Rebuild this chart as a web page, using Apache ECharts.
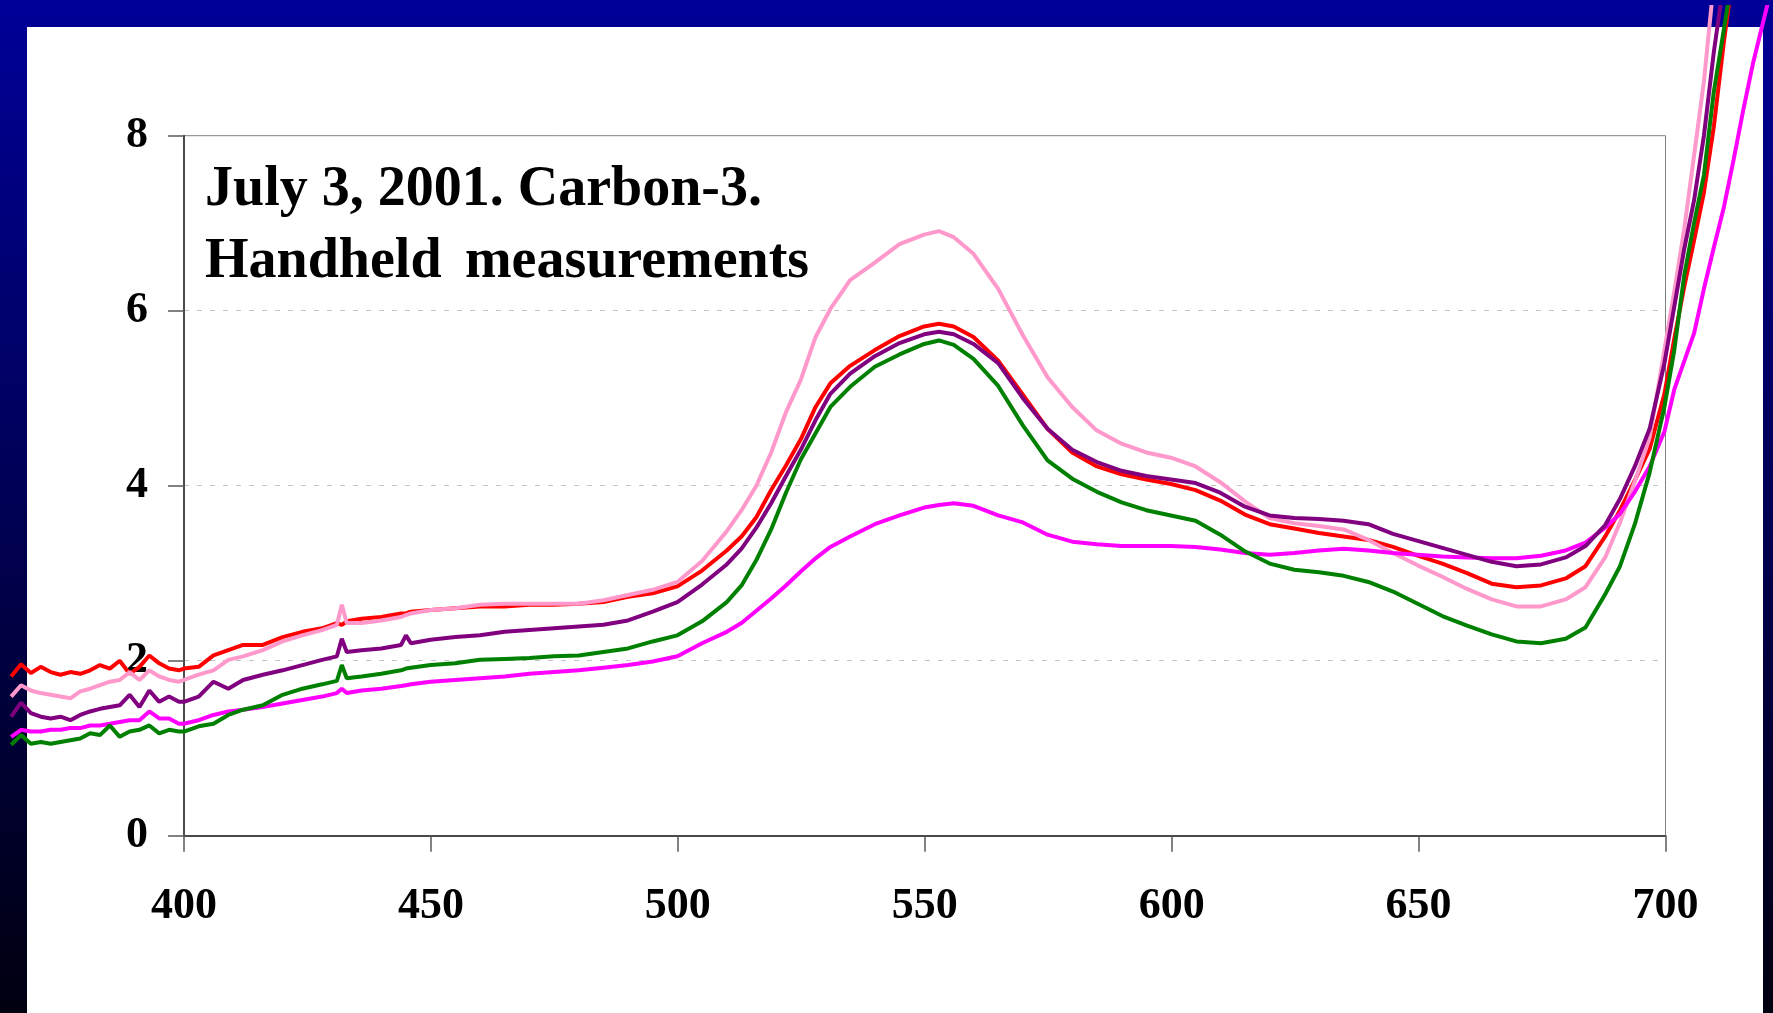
<!DOCTYPE html>
<html>
<head>
<meta charset="utf-8">
<title>July 3, 2001. Carbon-3. Handheld measurements</title>
<script src="https://cdn.jsdelivr.net/npm/echarts@6/dist/echarts.min.js"></script>
<style>
  html, body {
    margin: 0; padding: 0;
    width: 1773px; height: 1013px; overflow: hidden;
    background: linear-gradient(to bottom, #000098 0%, #000010 100%);
  }
  #panel {
    position: absolute; left: 27px; top: 27px;
    width: 1736px; height: 986px; background: #ffffff;
  }
  #chart {
    position: absolute; left: 0; top: 0;
    width: 1773px; height: 1013px;
  }
</style>
</head>
<body>
<div id="panel"></div>
<div id="chart"></div>
<script>
// Wavelength grid (nm) shared by all five spectra
const wavelengths = [
  365, 367, 369, 371, 373, 375, 377, 379, 381, 383, 385, 387, 389, 391, 393, 395, 397, 399,
  400, 403, 406, 409, 412, 416, 420, 424, 428, 431, 432, 433, 436, 440, 444, 445, 446, 450,
  455, 460, 465, 470, 475, 480, 485, 490, 495, 500,
  505, 510, 513, 516, 519, 522, 525, 528, 531, 535, 540, 545, 550, 553, 556, 560, 565, 570,
  575, 580, 585, 590, 595, 600,
  605, 610, 615, 620, 625, 630, 635, 640, 645, 650, 655, 660, 665, 670, 675, 680, 684, 688,
  691, 694, 697, 700,
  702, 704, 706, 708, 710, 712, 714, 716, 718, 720, 722
];

const redValues = [
  1.82, 1.96, 1.86, 1.93, 1.87, 1.84, 1.87, 1.85, 1.89, 1.95, 1.91, 2.00, 1.85, 1.93, 2.06, 1.97, 1.91, 1.89,
  1.91, 1.93, 2.06, 2.12, 2.18, 2.18, 2.27, 2.33, 2.37, 2.43, 2.41, 2.45, 2.48, 2.50, 2.54, 2.54, 2.56, 2.58,
  2.60, 2.62, 2.62, 2.64, 2.64, 2.65, 2.67, 2.73, 2.77, 2.85,
  3.03, 3.26, 3.42, 3.64, 3.95, 4.23, 4.53, 4.90, 5.17, 5.37, 5.55, 5.71, 5.82, 5.85, 5.82, 5.70, 5.43, 5.04,
  4.65, 4.38, 4.22, 4.13, 4.07, 4.02,
  3.95, 3.83, 3.67, 3.56, 3.51, 3.46, 3.42, 3.38, 3.30, 3.20, 3.11, 3.00, 2.88, 2.84, 2.86, 2.94, 3.08, 3.42,
  3.72, 4.06, 4.42, 5.05,
  5.68, 6.27, 6.80, 7.35, 8.10, 9.05, 9.90, null, null, null, null
];

const pinkValues = [
  1.59, 1.72, 1.66, 1.63, 1.61, 1.59, 1.57, 1.65, 1.68, 1.72, 1.76, 1.78, 1.87, 1.78, 1.89, 1.82, 1.78, 1.76,
  1.78, 1.84, 1.89, 2.01, 2.05, 2.12, 2.22, 2.29, 2.35, 2.41, 2.64, 2.43, 2.43, 2.46, 2.50, 2.52, 2.54, 2.58,
  2.60, 2.64, 2.65, 2.65, 2.65, 2.65, 2.69, 2.75, 2.81, 2.90,
  3.14, 3.48, 3.72, 4.00, 4.38, 4.84, 5.21, 5.70, 6.02, 6.35, 6.55, 6.76, 6.87, 6.91, 6.84, 6.65, 6.25, 5.72,
  5.24, 4.90, 4.63, 4.48, 4.38, 4.32,
  4.22, 4.04, 3.82, 3.63, 3.57, 3.54, 3.50, 3.38, 3.23, 3.09, 2.96, 2.82, 2.70, 2.62, 2.62, 2.70, 2.84, 3.18,
  3.58, 4.05, 4.55, 5.55,
  6.22, 6.93, 7.77, 8.62, 9.75, null, null, null, null, null, null
];

const purpleValues = [
  1.36, 1.52, 1.40, 1.36, 1.34, 1.36, 1.32, 1.38, 1.42, 1.45, 1.47, 1.49, 1.61, 1.47, 1.66, 1.53, 1.59, 1.53,
  1.53, 1.59, 1.76, 1.68, 1.78, 1.84, 1.89, 1.95, 2.01, 2.05, 2.25, 2.10, 2.12, 2.14, 2.18, 2.29, 2.20, 2.24,
  2.27, 2.29, 2.33, 2.35, 2.37, 2.39, 2.41, 2.46, 2.56, 2.67,
  2.87, 3.10, 3.28, 3.52, 3.80, 4.11, 4.41, 4.75, 5.05, 5.28, 5.48, 5.63, 5.73, 5.76, 5.73, 5.62, 5.40, 5.00,
  4.65, 4.41, 4.27, 4.17, 4.11, 4.07,
  4.03, 3.92, 3.76, 3.66, 3.63, 3.62, 3.60, 3.56, 3.45, 3.37, 3.29, 3.21, 3.13, 3.08, 3.10, 3.18, 3.31, 3.55,
  3.85, 4.22, 4.65, 5.40,
  6.05, 6.70, 7.26, 8.00, 8.95, 9.75, null, null, null, null, null
];

const greenValues = [
  1.04, 1.15, 1.05, 1.07, 1.05, 1.07, 1.09, 1.11, 1.17, 1.15, 1.26, 1.13, 1.19, 1.21, 1.26, 1.17, 1.21, 1.19,
  1.19, 1.25, 1.28, 1.38, 1.44, 1.49, 1.61, 1.68, 1.73, 1.77, 1.95, 1.80, 1.82, 1.85, 1.89, 1.91, 1.92, 1.95,
  1.97, 2.01, 2.02, 2.03, 2.05, 2.06, 2.10, 2.14, 2.22, 2.29,
  2.45, 2.67, 2.86, 3.15, 3.50, 3.92, 4.30, 4.60, 4.90, 5.13, 5.36, 5.50, 5.62, 5.66, 5.61, 5.45, 5.14, 4.69,
  4.29, 4.08, 3.93, 3.81, 3.72, 3.66,
  3.60, 3.44, 3.25, 3.11, 3.04, 3.01, 2.97, 2.90, 2.79, 2.65, 2.51, 2.40, 2.30, 2.22, 2.20, 2.25, 2.38, 2.76,
  3.08, 3.56, 4.15, 4.90,
  5.55, 6.40, 7.00, 7.55, 8.50, 9.20, 9.90, null, null, null, null
];

const magentaValues = [
  1.13, 1.21, 1.19, 1.19, 1.21, 1.21, 1.23, 1.23, 1.26, 1.26, 1.28, 1.30, 1.32, 1.32, 1.42, 1.34, 1.34, 1.28,
  1.28, 1.32, 1.38, 1.42, 1.44, 1.47, 1.51, 1.55, 1.59, 1.63, 1.68, 1.63, 1.66, 1.68, 1.71, 1.72, 1.73, 1.76,
  1.78, 1.80, 1.82, 1.85, 1.87, 1.89, 1.92, 1.95, 1.99, 2.05,
  2.20, 2.33, 2.43, 2.57, 2.71, 2.86, 3.02, 3.17, 3.30, 3.42, 3.56, 3.66, 3.75, 3.78, 3.80, 3.77, 3.66, 3.58,
  3.44, 3.36, 3.33, 3.31, 3.31, 3.31,
  3.30, 3.27, 3.23, 3.21, 3.23, 3.26, 3.28, 3.26, 3.23, 3.21, 3.19, 3.18, 3.17, 3.17, 3.20, 3.26, 3.35, 3.52,
  3.68, 3.93, 4.22, 4.62,
  5.10, 5.42, 5.74, 6.25, 6.72, 7.17, 7.72, 8.30, 8.84, 9.30, 9.75
];

// Axis ticks
const xTicks = [400, 450, 500, 550, 600, 650, 700];
const yTicks = [0, 2, 4, 6, 8];

const titleLines = ['July 3, 2001. Carbon-3.', 'Handheld \u2006measurements'];

// Drawing order: later series sit on top
const seriesList = [
  { name: 'red', color: '#ff0000', values: redValues },
  { name: 'pink', color: '#ff99cc', values: pinkValues },
  { name: 'magenta', color: '#ff00ff', values: magentaValues },
  { name: 'purple', color: '#800080', values: purpleValues },
  { name: 'green', color: '#008000', values: greenValues }
];

// Plot frame geometry (px) and the scale it implies
const plotLeft = 184, plotTop = 135.7, plotWidth = 1481.5, plotHeight = 700;
const xMin = xTicks[0], xMax = xTicks[xTicks.length - 1];
const yMin = yTicks[0], yMax = yTicks[yTicks.length - 1];
const pxPerNm = plotWidth / (xMax - xMin);
const pxPerUnit = plotHeight / (yMax - yMin);

// The spectra run past the frame; they are drawn on a wider,
// hidden coordinate system sharing the same scale, cut at the top edge.
const curveTopPx = 7;
const curveXMin = 364, curveXMax = 722;
const curveYMax = (plotTop + plotHeight - curveTopPx) / pxPerUnit;

const serif = '"Liberation Serif", "Times New Roman", serif';
const chart = echarts.init(document.getElementById('chart'), null, { renderer: 'canvas' });

const labelStyle = {
  color: '#000000',
  fontFamily: serif,
  fontWeight: 'bold',
  fontSize: 44
};

chart.setOption({
  animation: false,
  backgroundColor: 'transparent',
  grid: [
    {
      left: plotLeft, top: plotTop, width: plotWidth, height: plotHeight,
      show: true, borderColor: '#808080', borderWidth: 1,
      backgroundColor: 'transparent'
    },
    {
      left: plotLeft + (curveXMin - xMin) * pxPerNm,
      top: curveTopPx,
      width: (curveXMax - curveXMin) * pxPerNm,
      height: curveYMax * pxPerUnit,
      show: false
    }
  ],
  xAxis: [
    {
      type: 'value', gridIndex: 0,
      min: xMin, max: xMax, interval: xTicks[1] - xTicks[0],
      axisLine: { show: true, lineStyle: { color: '#4a4a4a', width: 2 } },
      axisTick: { show: true, inside: false, length: 16, lineStyle: { color: '#5a5a5a', width: 1.5 } },
      axisLabel: Object.assign({ margin: 49 }, labelStyle),
      splitLine: { show: false }
    },
    {
      type: 'value', gridIndex: 1, show: false,
      min: curveXMin, max: curveXMax
    }
  ],
  yAxis: [
    {
      type: 'value', gridIndex: 0,
      min: yMin, max: yMax, interval: yTicks[1] - yTicks[0],
      axisLine: { show: true, lineStyle: { color: '#4a4a4a', width: 2 } },
      axisTick: { show: true, inside: false, length: 16, lineStyle: { color: '#5a5a5a', width: 1.5 } },
      axisLabel: Object.assign({ margin: 36 }, labelStyle),
      splitLine: {
        show: true,
        lineStyle: {
          color: ['rgba(0,0,0,0)', '#c4c4c4', '#c4c4c4', '#c4c4c4', 'rgba(0,0,0,0)'],
          type: [5, 8],
          width: 1
        }
      }
    },
    {
      type: 'value', gridIndex: 1, show: false,
      min: 0, max: curveYMax
    }
  ],
  graphic: [{
    type: 'text',
    left: 205,
    top: 155,
    z: 10,
    style: {
      text: titleLines.join('\n'),
      font: 'bold 56px ' + serif,
      lineHeight: 72,
      fill: '#000000'
    }
  }],
  series: seriesList.map(s => ({
    name: s.name,
    type: 'line',
    xAxisIndex: 1,
    yAxisIndex: 1,
    showSymbol: false,
    symbol: 'none',
    smooth: false,
    lineStyle: { color: s.color, width: 4 },
    itemStyle: { color: s.color },
    data: wavelengths
      .map((w, i) => [w, s.values[i]])
      .filter(p => p[1] !== null)
  }))
});
</script>
</body>
</html>
